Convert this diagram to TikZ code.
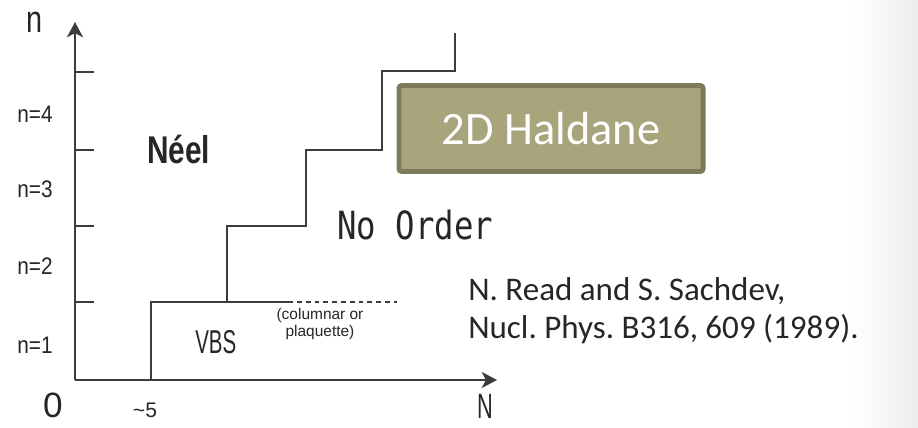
\documentclass[tikz,border=0pt]{standalone}
\usepackage{fontspec}
\setmainfont{Carlito}
\newfontfamily\arialf{Liberation Sans}
\newfontfamily\monof{DejaVu Sans Mono}
\usepackage{xcolor}
\usepackage{tikz}
\usetikzlibrary{arrows.meta, positioning, backgrounds}
\definecolor{haldfill}{HTML}{A8A47C}
\definecolor{haldedge}{HTML}{7D7A5A}
\definecolor{inkgray}{HTML}{3C3C3C}
\tikzset{
  axis/.style   ={line width=1.4pt, draw=inkgray, -{Stealth[length=0.38cm, width=0.4cm, inset=0.1cm]}},
  tick/.style   ={line width=1.3pt, draw=inkgray},
  border/.style ={line width=1.3pt, draw=inkgray},
  future/.style ={line width=1.3pt, draw=inkgray, dash pattern=on 0.12cm off 0.1cm},
  lbl/.style    ={inner sep=0pt, text=black!85, font=\arialf},
  phase/.style  ={inner sep=0pt, text=black!85},
  haldbox/.style={rectangle, rounded corners=2pt, draw=haldedge, fill=haldfill,
                  line width=3.5pt, minimum width=7.6cm, minimum height=2.15cm,
                  text=white, font=\fontsize{33}{36}\selectfont},
  cite/.style   ={inner sep=0pt, text=black!85, font=\fontsize{23.5}{27}\selectfont},
}
\frenchspacing

\begin{document}
\begin{tikzpicture}[x=0.025cm, y=-0.025cm]

  % ── Canvas and slide shading ───────────────────────────────────────
  \useasboundingbox (0,0) rectangle (918,427);
  \shade[left color=white, right color=black!7] (850,0) rectangle (918,427);

  % ── Axes ───────────────────────────────────────────────────────────
  \coordinate (O)  at (75,380);
  \coordinate (nT) at (75,22);
  \coordinate (NT) at (497,380);
  \draw[axis] (O) -- (nT);
  \draw[axis] (O) -- (NT);

  \foreach \yy in {72,150,226,302}
    \draw[tick] (75,\yy) -- (94,\yy);

  \node[lbl, anchor=base] (nlab) at (35,33)  {\fontsize{27}{30}\selectfont\scalebox{0.76}[1]{n}};
  \node[lbl, anchor=base] (zero) at (53,417) {\fontsize{25}{28}\selectfont 0};
  \node[lbl, anchor=base] (Nlab) at (485,418) {\fontsize{25}{28}\selectfont\scalebox{0.62}[1]{N}};
  \node[lbl, anchor=base] (five) at (145,417) {\fontsize{15}{18}\selectfont\textasciitilde5};

  \foreach \k/\yy in {1/353,2/274,3/197,4/122}
    \node[lbl, anchor=base] (n\k) at (35,\yy) {\fontsize{17}{20}\selectfont\scalebox{0.87}[1]{n=\k}};

  % ── Phase boundary (staircase) ─────────────────────────────────────
  \coordinate (s0) at (151,380);
  \coordinate (s1) at (151,302);
  \coordinate (s2) at (227,302);
  \coordinate (s3) at (227,226);
  \coordinate (s4) at (306,226);
  \coordinate (s5) at (306,150);
  \coordinate (s6) at (382,150);
  \coordinate (s7) at (382,71);
  \coordinate (s8) at (455,71);
  \coordinate (s9) at (455,33);
  \draw[border] (s0) -- (s1) -- (s2) -- (s3) -- (s4) -- (s5) -- (s6) -- (s7) -- (s8) -- (s9);

  \coordinate (d0) at (293,302);
  \coordinate (d1) at (297,302);
  \coordinate (d2) at (397,302);
  \draw[border] (s2) -- (d0);
  \draw[future] (d1) -- (d2);

  % ── Phase labels ───────────────────────────────────────────────────
  \node[phase, anchor=base] (neel) at (178.5,163)
        {\arialf\bfseries\fontsize{27.5}{30}\selectfont\scalebox{0.77}[1]{Néel}};
  \node[phase, anchor=base west] (noord) at (337,239)
        {\monof\fontsize{23}{26}\selectfont\scalebox{1}[1.2]{No Order}};
  \node[phase, anchor=base west] (vbs) at (195,353)
        {\arialf\fontsize{23.5}{26}\selectfont\scalebox{0.62}[1]{VBS}};
  \node[phase, anchor=base, align=center, font=\arialf\fontsize{11}{12}\selectfont] (kind) at (320,336)
        {(columnar or\\plaquette)};

  % ── Annotations ────────────────────────────────────────────────────
  \node[haldbox] (hald) at (551,128.5) {2D Haldane};
  \node[cite, anchor=base west] (ref1) at (468,300) {N. Read and S. Sachdev,};
  \node[cite, anchor=base west] (ref2) at (468,338) {Nucl. Phys. B316, 609 (1989).};

\end{tikzpicture}
\end{document}
